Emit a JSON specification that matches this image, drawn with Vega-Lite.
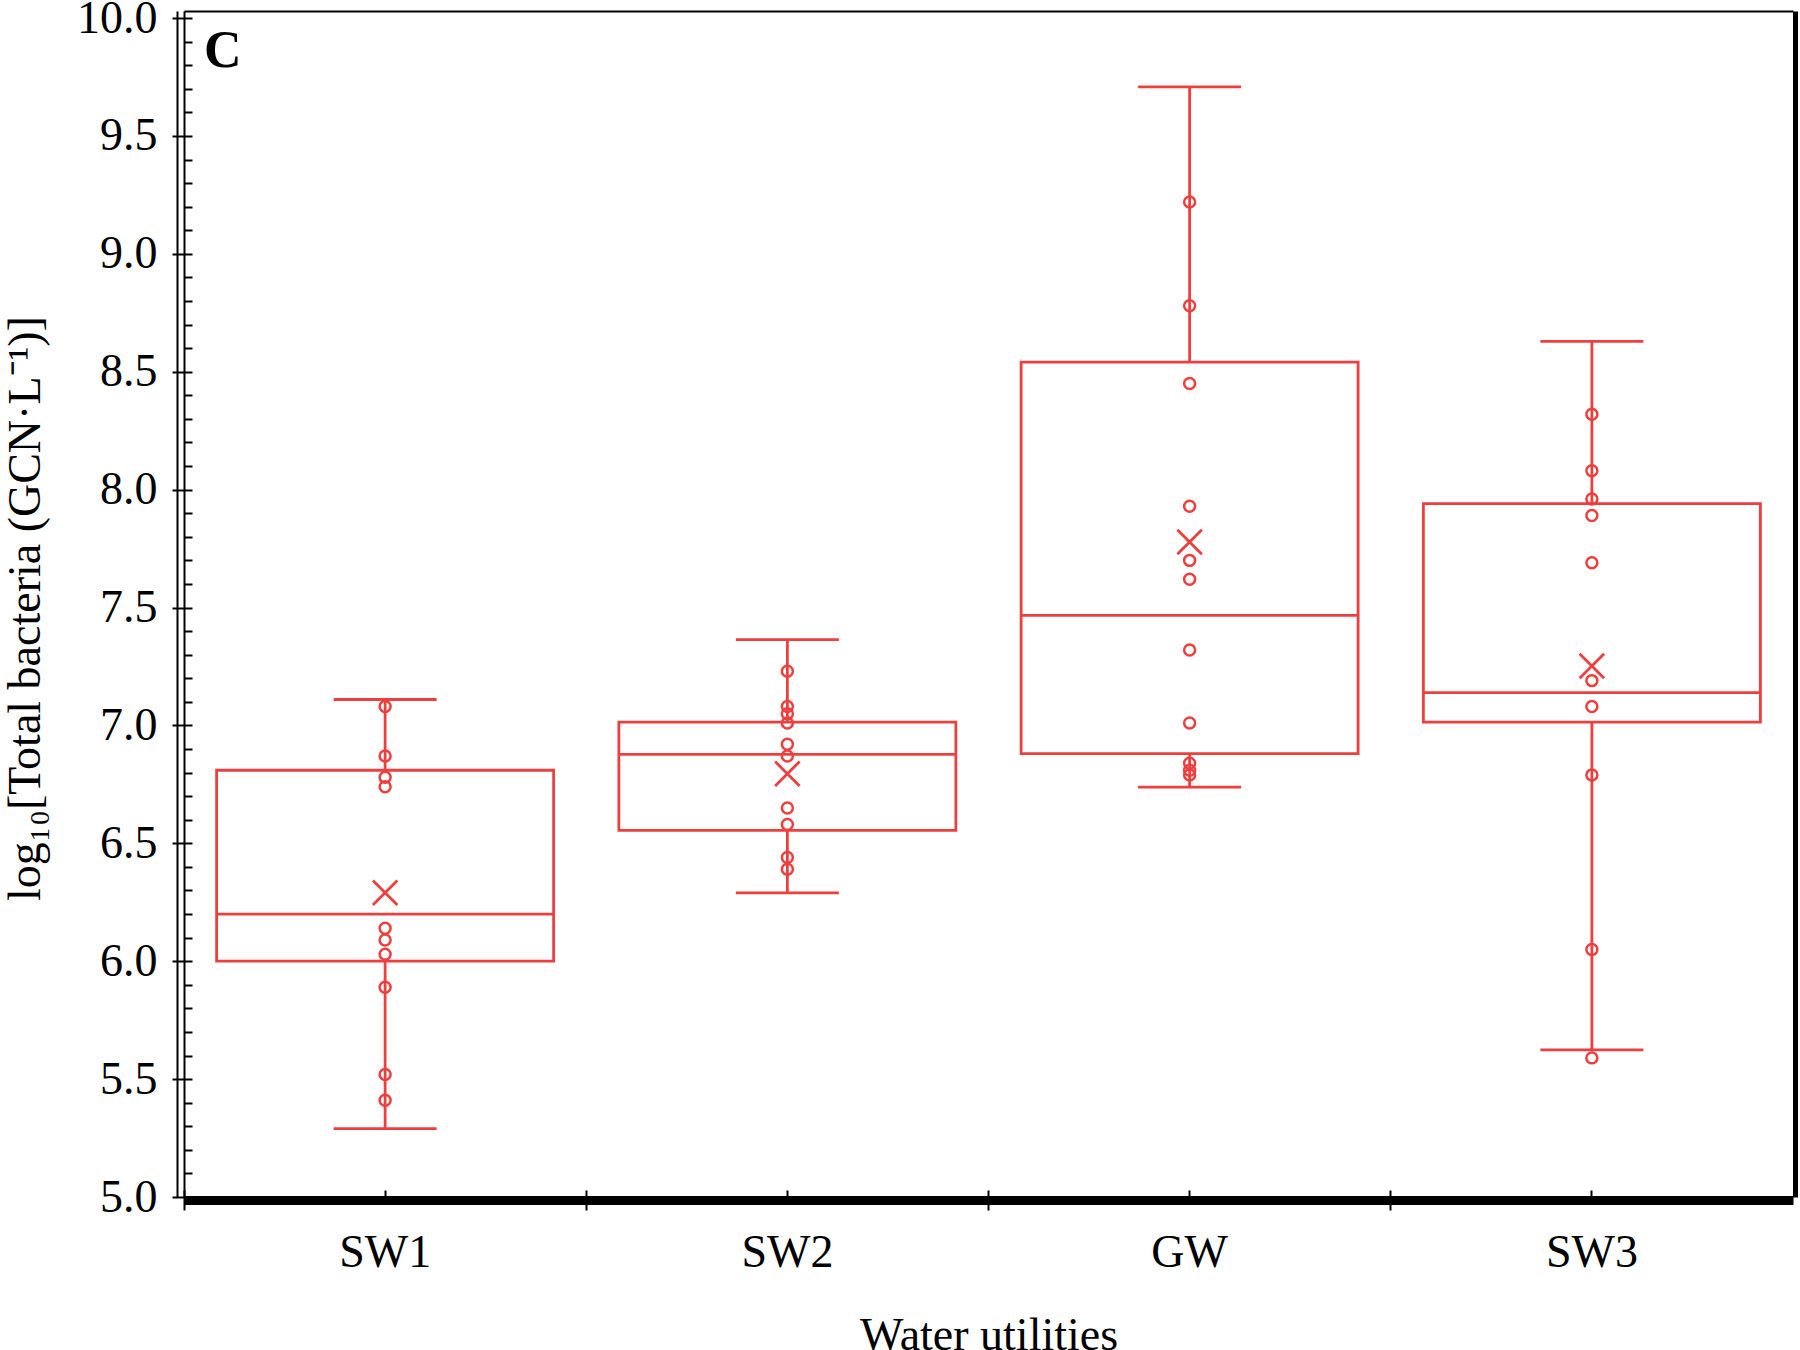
{
  "$schema": "https://vega.github.io/schema/vega-lite/v6.json",
  "autosize": {"type": "none"},
  "padding": {"left": 184, "top": 11, "right": 7, "bottom": 153},
  "width": 1609,
  "height": 1186,
  "background": "white",
  "config": {
    "view": {"stroke": null},
    "axis": {"grid": false, "domainColor": "black", "tickColor": "black", "labelColor": "black", "titleColor": "black", "labelFont": "Liberation Serif", "titleFont": "Liberation Serif", "titleFontWeight": "normal"}
  },
  "datasets": {
    "stats": [
      {"group": "SW1", "lower": 5.29, "q1": 6.0, "median": 6.2, "q3": 6.81, "upper": 7.11, "mean": 6.29},
      {"group": "SW2", "lower": 6.29, "q1": 6.555, "median": 6.877, "q3": 7.014, "upper": 7.364, "mean": 6.795},
      {"group": "GW", "lower": 6.738, "q1": 6.88, "median": 7.467, "q3": 8.541, "upper": 9.708, "mean": 7.778},
      {"group": "SW3", "lower": 5.624, "q1": 7.014, "median": 7.139, "q3": 7.941, "upper": 8.629, "mean": 7.252}
    ],
    "points": [
      {"group": "SW1", "value": 7.08}, {"group": "SW1", "value": 6.87}, {"group": "SW1", "value": 6.78}, {"group": "SW1", "value": 6.74}, {"group": "SW1", "value": 6.14}, {"group": "SW1", "value": 6.09}, {"group": "SW1", "value": 6.03}, {"group": "SW1", "value": 5.89}, {"group": "SW1", "value": 5.52}, {"group": "SW1", "value": 5.41},
      {"group": "SW2", "value": 7.23}, {"group": "SW2", "value": 7.08}, {"group": "SW2", "value": 7.05}, {"group": "SW2", "value": 7.01}, {"group": "SW2", "value": 6.92}, {"group": "SW2", "value": 6.87}, {"group": "SW2", "value": 6.65}, {"group": "SW2", "value": 6.58}, {"group": "SW2", "value": 6.44}, {"group": "SW2", "value": 6.39},
      {"group": "GW", "value": 9.22}, {"group": "GW", "value": 8.78}, {"group": "GW", "value": 8.45}, {"group": "GW", "value": 7.93}, {"group": "GW", "value": 7.70}, {"group": "GW", "value": 7.62}, {"group": "GW", "value": 7.32}, {"group": "GW", "value": 7.01}, {"group": "GW", "value": 6.84}, {"group": "GW", "value": 6.81}, {"group": "GW", "value": 6.79},
      {"group": "SW3", "value": 8.32}, {"group": "SW3", "value": 8.08}, {"group": "SW3", "value": 7.96}, {"group": "SW3", "value": 7.89}, {"group": "SW3", "value": 7.69}, {"group": "SW3", "value": 7.19}, {"group": "SW3", "value": 7.08}, {"group": "SW3", "value": 6.79}, {"group": "SW3", "value": 6.05}, {"group": "SW3", "value": 5.59}
    ]
  },
  "resolve": {"axis": {"x": "independent", "y": "independent"}},
  "layer": [
    {
      "data": {"name": "stats"},
      "mark": {"type": "rule", "color": "#EE3F3F", "strokeWidth": 2.8},
      "encoding": {
        "x": {"field": "group", "type": "nominal", "scale": {"type": "band", "domain": ["SW1", "SW2", "GW", "SW3"], "paddingInner": 0, "paddingOuter": 0},
          "axis": {"orient": "bottom", "offset": 3, "domain": true, "domainWidth": 9, "ticks": false, "tickSize": 0, "labelFontSize": 46, "labelPadding": 66, "labelBaseline": "alphabetic", "labelAngle": 0, "title": "Water utilities", "titleFontSize": 46, "titleBaseline": "alphabetic", "titleAlign": "center", "titleX": 804.5, "titleY": 149}},
        "y": {"field": "lower", "type": "quantitative", "scale": {"domain": [5, 10.03], "nice": false, "zero": false},
          "axis": {"orient": "left", "offset": 7, "values": [5, 5.5, 6, 6.5, 7, 7.5, 8, 8.5, 9, 9.5, 10], "format": ".1f", "ticks": false, "tickSize": 0, "domain": true, "domainWidth": 2, "labelFontSize": 46, "labelPadding": 20, "labelBaseline": "middle", "labelFlush": false, "labelOverlap": false, "title": "log₁₀[Total bacteria (GCN·L⁻¹)]", "titleFontSize": 46, "titleAngle": -90, "titleBaseline": "alphabetic", "titleAlign": "center", "titleX": -138, "titleY": 597}},
        "y2": {"field": "q1"}
      }
    },
    {
      "data": {"name": "stats"},
      "mark": {"type": "rule", "color": "#EE3F3F", "strokeWidth": 2.8},
      "encoding": {
        "x": {"field": "group", "type": "nominal", "scale": {"type": "band", "domain": ["SW1", "SW2", "GW", "SW3"], "paddingInner": 0, "paddingOuter": 0},
          "axis": {"orient": "bottom", "offset": 3, "domain": false, "ticks": true, "tickSize": -10, "tickWidth": 2, "labels": false, "title": null}},
        "y": {"field": "q3", "type": "quantitative", "scale": {"domain": [5, 10.03], "nice": false, "zero": false},
          "axis": {"orient": "left", "offset": 0, "values": [5, 5.5, 6, 6.5, 7, 7.5, 8, 8.5, 9, 9.5, 10], "domain": true, "domainWidth": 2, "ticks": true, "tickSize": 12, "tickWidth": 2, "labels": false, "title": null}},
        "y2": {"field": "upper"}
      }
    },
    {
      "data": {"name": "stats"},
      "mark": {"type": "tick", "color": "#EE3F3F", "opacity": 1, "size": 103, "thickness": 2.8},
      "encoding": {
        "x": {"field": "group", "type": "nominal", "scale": {"type": "band", "domain": ["SW1", "SW2", "GW", "SW3"], "paddingInner": 0, "paddingOuter": 0},
          "axis": {"orient": "bottom", "offset": 13, "bandPosition": 0, "domain": false, "ticks": true, "tickSize": -20, "tickWidth": 2, "labels": false, "title": null}},
        "y": {"field": "lower", "type": "quantitative", "scale": {"domain": [5, 10.03], "nice": false, "zero": false},
          "axis": {"orient": "right", "offset": -1609, "values": [5, 5.1, 5.2, 5.3, 5.4, 5.5, 5.6, 5.7, 5.8, 5.9, 6, 6.1, 6.2, 6.3, 6.4, 6.5, 6.6, 6.7, 6.8, 6.9, 7, 7.1, 7.2, 7.3, 7.4, 7.5, 7.6, 7.7, 7.8, 7.9, 8, 8.1, 8.2, 8.3, 8.4, 8.5, 8.6, 8.7, 8.8, 8.9, 9, 9.1, 9.2, 9.3, 9.4, 9.5, 9.6, 9.7, 9.8, 9.9, 10], "domain": false, "ticks": true, "tickSize": 8, "tickWidth": 2, "labels": false, "title": null}}
      }
    },
    {
      "data": {"name": "stats"},
      "mark": {"type": "tick", "color": "#EE3F3F", "opacity": 1, "size": 103, "thickness": 2.8},
      "encoding": {
        "x": {"field": "group", "type": "nominal", "scale": {"type": "band", "domain": ["SW1", "SW2", "GW", "SW3"], "paddingInner": 0, "paddingOuter": 0},
          "axis": {"orient": "top", "offset": 0, "domain": true, "domainWidth": 2, "ticks": false, "labels": false, "title": null}},
        "y": {"field": "upper", "type": "quantitative", "scale": {"domain": [5, 10.03], "nice": false, "zero": false},
          "axis": {"orient": "right", "offset": 2, "domain": true, "domainWidth": 5, "ticks": false, "labels": false, "title": null}}
      }
    },
    {
      "data": {"name": "stats"},
      "mark": {"type": "bar", "width": 337, "fill": "white", "fillOpacity": 0, "stroke": "#EE3F3F", "strokeWidth": 2.8, "strokeOpacity": 1},
      "encoding": {
        "x": {"field": "group", "type": "nominal", "scale": {"type": "band", "domain": ["SW1", "SW2", "GW", "SW3"], "paddingInner": 0, "paddingOuter": 0}, "axis": null},
        "y": {"field": "q1", "type": "quantitative", "scale": {"domain": [5, 10.03], "nice": false, "zero": false}, "axis": null},
        "y2": {"field": "q3"}
      }
    },
    {
      "data": {"name": "stats"},
      "mark": {"type": "tick", "color": "#EE3F3F", "opacity": 1, "size": 337, "thickness": 2.8},
      "encoding": {
        "x": {"field": "group", "type": "nominal", "scale": {"type": "band", "domain": ["SW1", "SW2", "GW", "SW3"], "paddingInner": 0, "paddingOuter": 0}, "axis": null},
        "y": {"field": "median", "type": "quantitative", "scale": {"domain": [5, 10.03], "nice": false, "zero": false}, "axis": null}
      }
    },
    {
      "data": {"name": "points"},
      "mark": {"type": "point", "shape": "circle", "filled": false, "size": 120, "strokeWidth": 2.5, "color": "#EE3F3F", "opacity": 1},
      "encoding": {
        "x": {"field": "group", "type": "nominal", "scale": {"type": "band", "domain": ["SW1", "SW2", "GW", "SW3"], "paddingInner": 0, "paddingOuter": 0}, "axis": null},
        "y": {"field": "value", "type": "quantitative", "scale": {"domain": [5, 10.03], "nice": false, "zero": false}, "axis": null}
      }
    },
    {
      "data": {"name": "stats"},
      "mark": {"type": "point", "shape": "M-1,-1L1,1M-1,1L1,-1", "filled": false, "size": 600, "strokeWidth": 2.8, "color": "#EE3F3F", "opacity": 1},
      "encoding": {
        "x": {"field": "group", "type": "nominal", "scale": {"type": "band", "domain": ["SW1", "SW2", "GW", "SW3"], "paddingInner": 0, "paddingOuter": 0}, "axis": null},
        "y": {"field": "mean", "type": "quantitative", "scale": {"domain": [5, 10.03], "nice": false, "zero": false}, "axis": null}
      }
    },
    {
      "data": {"values": [{"label": "C", "group": "SW1", "value": 10}]},
      "mark": {"type": "text", "font": "Liberation Serif", "fontWeight": "bold", "fontSize": 52, "align": "left", "baseline": "alphabetic", "dx": 20, "dy": 49, "color": "black"},
      "encoding": {
        "x": {"field": "group", "type": "nominal", "bandPosition": 0, "scale": {"type": "band", "domain": ["SW1", "SW2", "GW", "SW3"], "paddingInner": 0, "paddingOuter": 0}, "axis": null},
        "y": {"field": "value", "type": "quantitative", "scale": {"domain": [5, 10.03], "nice": false, "zero": false}, "axis": null},
        "text": {"field": "label"}
      }
    }
  ]
}
